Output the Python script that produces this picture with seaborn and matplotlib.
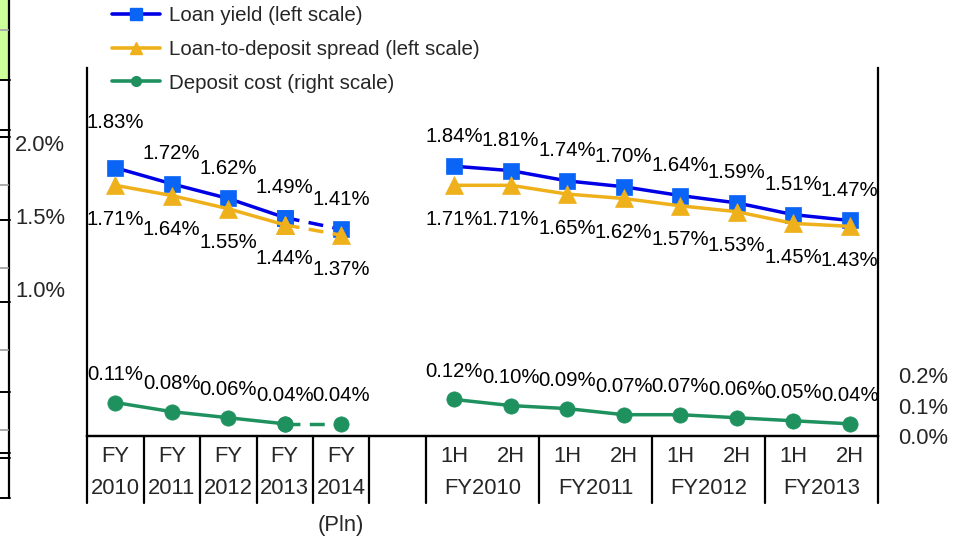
import numpy as np
import pandas as pd
import matplotlib
matplotlib.use("Agg")
import matplotlib.pyplot as plt
from matplotlib.lines import Line2D
from matplotlib.patches import Rectangle
import seaborn as sns

# ---------------- data ----------------
annual_years = ["2010", "2011", "2012", "2013", "2014"]
annual_prefix = "FY"
plan_note = "(Pln)"
half_labels = ["1H", "2H", "1H", "2H", "1H", "2H", "1H", "2H"]
half_groups = ["FY2010", "FY2011", "FY2012", "FY2013"]

loan_yield_annual = [1.83, 1.72, 1.62, 1.49, 1.41]
spread_annual = [1.71, 1.64, 1.55, 1.44, 1.37]
deposit_annual = [0.11, 0.08, 0.06, 0.04, 0.04]

loan_yield_half = [1.84, 1.81, 1.74, 1.70, 1.64, 1.59, 1.51, 1.47]
spread_half = [1.71, 1.71, 1.65, 1.62, 1.57, 1.53, 1.45, 1.43]
deposit_half = [0.12, 0.10, 0.09, 0.07, 0.07, 0.06, 0.05, 0.04]

series_names = ["Loan yield (left scale)",
                "Loan-to-deposit spread (left scale)",
                "Deposit cost (right scale)"]
left_ticks = [1.0, 1.5, 2.0]
right_ticks = [0.0, 0.1, 0.2]

# ---------------- style ----------------
sns.set_style("white")
plt.rcParams["font.family"] = ["Liberation Sans", "DejaVu Sans"]

W, H = 962, 537
fig = plt.figure(figsize=(W / 100, H / 100), dpi=100)
L, R, T, B = 87, 878, 68, 436
ax = fig.add_axes([L / W, 1 - B / H, (R - L) / W, (B - T) / H])
ax2 = ax.twinx()

c_loan_line, c_loan_mk = "#0000E6", "#0A64F5"
c_spread = "#EFB11B"
c_dep = "#1E915E"

n_a, n_h = len(annual_years), len(half_labels)
xa = np.arange(n_a)
xh = np.arange(n_h) + n_a + 1


def draw(axis, vals_a, vals_h, line_c, mk_c, marker, ms):
    # solid parts: actual annual values and half-year values
    df = pd.DataFrame({
        "x": list(xa[:-1]) + list(xh),
        "v": list(vals_a[:-1]) + list(vals_h),
        "seg": ["a"] * (n_a - 1) + ["h"] * n_h,
    })
    sns.lineplot(data=df, x="x", y="v", units="seg", estimator=None, ax=axis,
                 color=line_c, lw=2.5, marker=marker, markersize=ms,
                 markerfacecolor=mk_c, markeredgecolor=mk_c, mew=0.5,
                 legend=False, zorder=3)
    # plan segment (dashed)
    dfp = pd.DataFrame({"x": xa[-2:], "v": vals_a[-2:]})
    sns.lineplot(data=dfp, x="x", y="v", ax=axis, color=line_c, lw=2.5,
                 linestyle=(0, (4.3, 2.7)), marker=marker, markersize=ms,
                 markerfacecolor=mk_c, markeredgecolor=mk_c, mew=0.5,
                 legend=False, zorder=3)


draw(ax, loan_yield_annual, loan_yield_half, c_loan_line, c_loan_mk, "s", 12)
draw(ax, spread_annual, spread_half, c_spread, c_spread, "^", 12.5)
draw(ax2, deposit_annual, deposit_half, c_dep, c_dep, "o", 11)

# ---------------- data labels ----------------
lab_fs = 14.6


def label(axis, xs, vals, dy):
    for i, (x, v) in enumerate(zip(xs, vals)):
        d = dy(i) if callable(dy) else dy
        axis.annotate(f"{v:.2f}%", (x, v), xytext=(0, d),
                      textcoords="offset pixels", ha="center", va="center",
                      fontsize=lab_fs, color="black", zorder=5)


label(ax, xa, loan_yield_annual, lambda i: 45 if i == 0 else 30)
label(ax, xh, loan_yield_half, 30)
label(ax, xa, spread_annual, -34)
label(ax, xh, spread_half, -34)
label(ax2, xa, deposit_annual, 28)
label(ax2, xh, deposit_half, 28)

# ---------------- axes ----------------
ax.set_xlim(-0.5, n_a + n_h + 0.5)
ax.set_ylim(0, 2.51)
ax2.set_ylim(0, 1.209)
ax.set_xticks([])
ax.set_xlabel("")
ax.set_ylabel("")
ax2.set_ylabel("")
ax.set_yticks(left_ticks)
ax.set_yticklabels([f"{t:.1f}%" for t in left_ticks])
ax2.set_yticks(right_ticks)
ax2.set_yticklabels([f"{t:.1f}%" for t in right_ticks])
ax.tick_params(axis="y", length=0, pad=15.8, labelsize=15.8)
ax2.tick_params(axis="y", length=0, pad=14.4, labelsize=15.8)
for a in (ax, ax2):
    a.grid(False)
    a.spines["top"].set_visible(False)
    for s in ("left", "right", "bottom"):
        a.spines[s].set_color("black")
        a.spines[s].set_linewidth(1.6)
ax2.spines["left"].set_visible(False)
ax.spines["right"].set_visible(False)

# category separators below axis
xt = ax.get_xaxis_transform()
sep_bottom = -(503 - B) / (B - T)
seps = sorted(set([-0.5 + k for k in range(n_a + 2)] +
                  [n_a + 0.5 + 2 * k for k in range(n_h // 2 + 1)]))
for s in seps:
    ax.add_line(Line2D([s, s], [sep_bottom, 0], transform=xt, color="black",
                       lw=1.6, clip_on=False))

y1 = -(457 - B) / (B - T)
y2 = -(489 - B) / (B - T)
y3 = -(525 - B) / (B - T)
tick_fs = 15.8
for x, yr in zip(xa, annual_years):
    ax.text(x, y1, annual_prefix, transform=xt, ha="center", va="center", fontsize=tick_fs)
    ax.text(x, y2, yr, transform=xt, ha="center", va="center", fontsize=tick_fs)
ax.text(xa[-1], y3, plan_note, transform=xt, ha="center", va="center", fontsize=tick_fs)
for x, h in zip(xh, half_labels):
    ax.text(x, y1, h, transform=xt, ha="center", va="center", fontsize=tick_fs)
for k, g in enumerate(half_groups):
    ax.text((xh[2 * k] + xh[2 * k + 1]) / 2, y2, g, transform=xt,
            ha="center", va="center", fontsize=tick_fs)

# ---------------- legend ----------------
handles = [
    Line2D([], [], color=c_loan_line, lw=2.6, marker="s", markersize=8,
           markerfacecolor=c_loan_mk, markeredgecolor=c_loan_mk),
    Line2D([], [], color=c_spread, lw=2.6, marker="^", markersize=8,
           markerfacecolor=c_spread, markeredgecolor=c_spread),
    Line2D([], [], color=c_dep, lw=2.6, marker="o", markersize=7,
           markerfacecolor=c_dep, markeredgecolor=c_dep),
]
fig.legend(handles, series_names, loc="upper left",
           bbox_to_anchor=(112 / W, 1 - 6 / H), bbox_transform=fig.transFigure,
           frameon=False, fontsize=14.8, handlelength=2.35, handletextpad=0.4,
           labelspacing=0.72, borderpad=0, borderaxespad=0)

# ---------------- cropped table remnants at left edge ----------------
def fx(px):
    return px / W


def fy(py):
    return 1 - py / H


fig.add_artist(Rectangle((0, fy(80)), fx(8), 80 / H, transform=fig.transFigure,
                         facecolor="#CCFF99", edgecolor="none", zorder=0))
fig.add_artist(Line2D([fx(8.5), fx(8.5)], [fy(0), fy(498)], transform=fig.transFigure,
                      color="black", lw=1.6))
for yy in [80, 130, 137, 220, 302, 392, 453, 458, 498]:
    fig.add_artist(Line2D([0, fx(10)], [fy(yy), fy(yy)], transform=fig.transFigure,
                          color="black", lw=1.4))
for yy in [30, 185, 268, 350, 430]:
    fig.add_artist(Line2D([0, fx(8)], [fy(yy), fy(yy)], transform=fig.transFigure,
                          color="#AAAAAA", lw=1.4))

fig.savefig("out.png", dpi=100)
